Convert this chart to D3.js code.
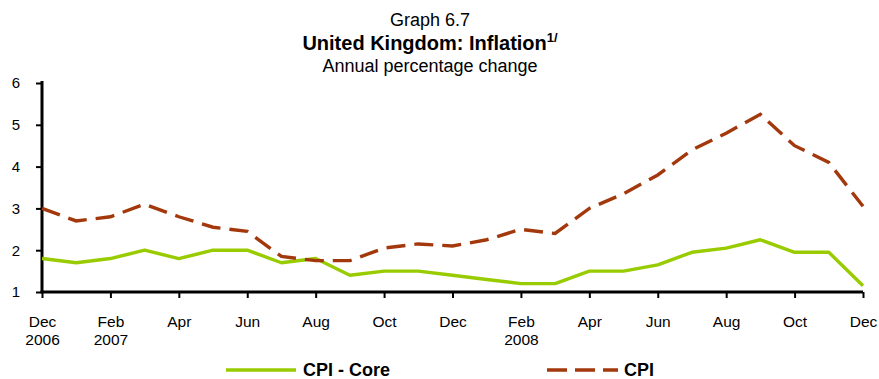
<!DOCTYPE html>
<html>
<head>
<meta charset="utf-8">
<script src="https://cdn.jsdelivr.net/npm/d3@7"></script>
<style>
  html, body { margin: 0; padding: 0; background: #fff; }
  svg { display: block; font-family: "Liberation Sans", Arial, sans-serif; }
</style>
</head>
<body>
<svg id="chart" width="879" height="379"></svg>
<script>
// Monthly observations, Dec 2006 – Dec 2008
const months = ["2006-12","2007-01","2007-02","2007-03","2007-04","2007-05","2007-06","2007-07","2007-08","2007-09","2007-10","2007-11","2007-12",
                "2008-01","2008-02","2008-03","2008-04","2008-05","2008-06","2008-07","2008-08","2008-09","2008-10","2008-11","2008-12"];
const cpiCore = [1.8,1.7,1.8,2.0,1.8,2.0,2.0,1.7,1.8,1.4,1.5,1.5,1.4,1.3,1.2,1.2,1.5,1.5,1.65,1.95,2.05,2.25,1.95,1.95,1.15];
const cpi     = [3.0,2.7,2.8,3.1,2.8,2.55,2.45,1.85,1.75,1.75,2.05,2.15,2.1,2.25,2.5,2.4,3.0,3.35,3.8,4.4,4.8,5.25,4.5,4.1,3.05];
const yTicks = [1,2,3,4,5,6];
const xTickLabels = [["Dec","2006"],["Feb","2007"],["Apr"],["Jun"],["Aug"],["Oct"],["Dec"],["Feb","2008"],["Apr"],["Jun"],["Aug"],["Oct"],["Dec"]];

const svg = d3.select("#chart");
const plotLeft = 42, plotRight = 863, plotTop = 83, plotBottom = 292;

const x = d3.scalePoint().domain(months).range([plotLeft, plotRight]);
const y = d3.scaleLinear().domain([1, 6]).range([plotBottom, plotTop]);

// Titles
const cx = 430;
svg.append("text").attr("x", cx).attr("y", 26).attr("text-anchor", "middle")
  .attr("font-size", 18).text("Graph 6.7");
const t = svg.append("text").attr("x", cx).attr("y", 50).attr("text-anchor", "middle")
  .attr("font-size", 20).attr("font-weight", "bold");
t.append("tspan").text("United Kingdom: Inflation");
t.append("tspan").attr("font-size", 13).attr("dy", -8).text("1/");
svg.append("text").attr("x", cx).attr("y", 72).attr("text-anchor", "middle")
  .attr("font-size", 18).text("Annual percentage change");

// Y axis
const yAxis = svg.append("g").attr("transform", `translate(${plotLeft},0)`)
  .call(d3.axisLeft(y).tickValues(yTicks).tickSize(6).tickPadding(16).tickFormat(d3.format("d")));
yAxis.select(".domain").attr("stroke", "#000").attr("stroke-width", 3).attr("d", `M0,${plotBottom}V${plotTop - 2}`);
yAxis.selectAll(".tick line").attr("stroke", "#000").attr("stroke-width", 2);
yAxis.selectAll(".tick text").attr("font-size", 15).attr("fill", "#000")
  .attr("font-family", "Liberation Sans, Arial, sans-serif");

// X axis: ticks every two months
const tickMonths = months.filter((d, i) => i % 2 === 0);
const xAxis = svg.append("g").attr("transform", `translate(0,${plotBottom})`)
  .call(d3.axisBottom(x).tickValues(tickMonths).tickSize(6).tickFormat(""));
xAxis.select(".domain").attr("stroke", "#000").attr("stroke-width", 3).attr("d", `M${plotLeft - 1.5},0H${plotRight}`);
xAxis.selectAll(".tick line").attr("stroke", "#000").attr("stroke-width", 2);
xAxis.selectAll(".tick").each(function(d, i) {
  const lines = xTickLabels[i];
  const txt = d3.select(this).append("text").attr("text-anchor", "middle")
    .attr("font-size", 15.5).attr("fill", "#000")
    .attr("font-family", "Liberation Sans, Arial, sans-serif");
  lines.forEach((s, k) => txt.append("tspan").attr("x", 0).attr("y", 35 + k * 18).text(s));
});

// Series lines
const line = d3.line().x((d, i) => x(months[i])).y(d => y(d));
svg.append("path").datum(cpiCore).attr("d", line).attr("fill", "none")
  .attr("stroke", "#99cc00").attr("stroke-width", 3.4).attr("stroke-linejoin", "round");
svg.append("path").datum(cpi).attr("d", line).attr("fill", "none")
  .attr("stroke", "#a3380c").attr("stroke-width", 3.4).attr("stroke-dasharray", "19,9");

// Legend
const ly = 370;
svg.append("line").attr("x1", 226).attr("x2", 296).attr("y1", ly).attr("y2", ly)
  .attr("stroke", "#99cc00").attr("stroke-width", 3.4);
svg.append("text").attr("x", 303).attr("y", ly + 6).attr("font-size", 18).attr("font-weight", "bold").text("CPI - Core");
svg.append("line").attr("x1", 547).attr("x2", 618).attr("y1", ly).attr("y2", ly)
  .attr("stroke", "#a3380c").attr("stroke-width", 3.4).attr("stroke-dasharray", "20,8");
svg.append("text").attr("x", 624).attr("y", ly + 6).attr("font-size", 18).attr("font-weight", "bold").text("CPI");
</script>
</body>
</html>
